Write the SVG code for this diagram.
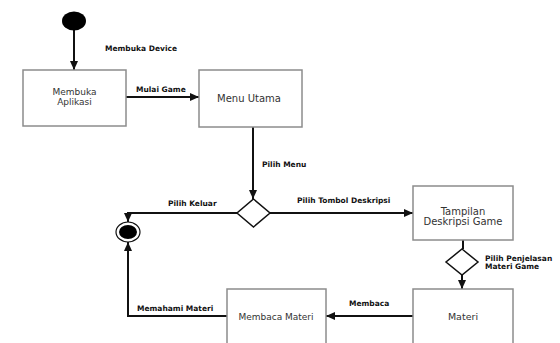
<svg xmlns="http://www.w3.org/2000/svg" width="560" height="343" viewBox="0 0 560 343">
<style>
.box{fill:#fff;stroke:#8c8c8c;stroke-width:1.5}
.dia{fill:#fff;stroke:#111;stroke-width:1.5}
.t{font-family:"DejaVu Sans",sans-serif;fill:#333;text-anchor:middle}
.l{font-family:"DejaVu Sans",sans-serif;font-weight:bold;font-size:7.5px;fill:#111}
.c{fill:none;stroke:#111;stroke-width:2}
</style>
<defs>
<marker id="ah" markerWidth="9" markerHeight="8" refX="9" refY="4" orient="auto" markerUnits="userSpaceOnUse">
<path d="M0,0 L9,4 L0,8 z" fill="#111"/>
</marker>
</defs>
<rect width="560" height="343" fill="#fff"/>
<g id="connectors">
<path class="c" d="M74,30 V70" marker-end="url(#ah)"/>
<path class="c" d="M126,97 H199" marker-end="url(#ah)"/>
<path class="c" d="M253,127 V199" marker-end="url(#ah)"/>
<path class="c" d="M270,213 H413" marker-end="url(#ah)"/>
<path class="c" d="M237,213 H128 V222" marker-end="url(#ah)"/>
<path class="c" d="M463,240 V249"/>
<path class="c" d="M462,275 V289" marker-end="url(#ah)"/>
<path class="c" d="M413,316 H326" marker-end="url(#ah)"/>
<path class="c" d="M227,316 H128 V242" marker-end="url(#ah)"/>
</g>
<g id="start"><ellipse cx="74" cy="21" rx="12" ry="9.5" fill="#000"/></g>
<g id="end">
<ellipse cx="128" cy="232" rx="12" ry="10" fill="#fff" stroke="#111" stroke-width="1.2"/>
<ellipse cx="128" cy="232" rx="9" ry="7" fill="#000"/>
</g>
<g id="membuka-aplikasi">
<rect class="box" x="23" y="70" width="103" height="56"/>
<text class="t" x="74.5" y="94.5" font-size="9">Membuka</text>
<text class="t" x="74.5" y="105" font-size="9">Aplikasi</text>
</g>
<g id="menu-utama">
<rect class="box" x="199" y="70" width="103" height="57"/>
<text class="t" x="249" y="101.5" font-size="10">Menu Utama</text>
</g>
<g id="decision1"><path class="dia" d="M253.5,199 L270,213 L253.5,227 L237,213 z"/></g>
<g id="tampilan">
<rect class="box" x="413" y="186" width="100" height="54"/>
<text class="t" x="463" y="214.5" font-size="10">Tampilan</text>
<text class="t" x="463" y="224.5" font-size="10">Deskripsi Game</text>
</g>
<g id="decision2"><path class="dia" d="M462,249 L478,262 L462,275 L446,262 z"/></g>
<g id="materi">
<rect class="box" x="413" y="289" width="100" height="60"/>
<text class="t" x="463" y="319.5" font-size="9.5">Materi</text>
</g>
<g id="membaca-materi">
<rect class="box" x="227" y="289" width="99" height="60"/>
<text class="t" x="276" y="319.5" font-size="9">Membaca Materi</text>
</g>
<g id="labels">
<text class="l" x="105" y="51">Membuka Device</text>
<text class="l" x="136" y="92">Mulai Game</text>
<text class="l" x="262" y="167">Pilih Menu</text>
<text class="l" x="297" y="203">Pilih Tombol Deskripsi</text>
<text class="l" x="168" y="206">Pilih Keluar</text>
<text class="l" x="485" y="261">Pilih Penjelasan</text>
<text class="l" x="485" y="269">Materi Game</text>
<text class="l" x="349" y="306">Membaca</text>
<text class="l" x="137" y="311">Memahami Materi</text>
</g>
</svg>
